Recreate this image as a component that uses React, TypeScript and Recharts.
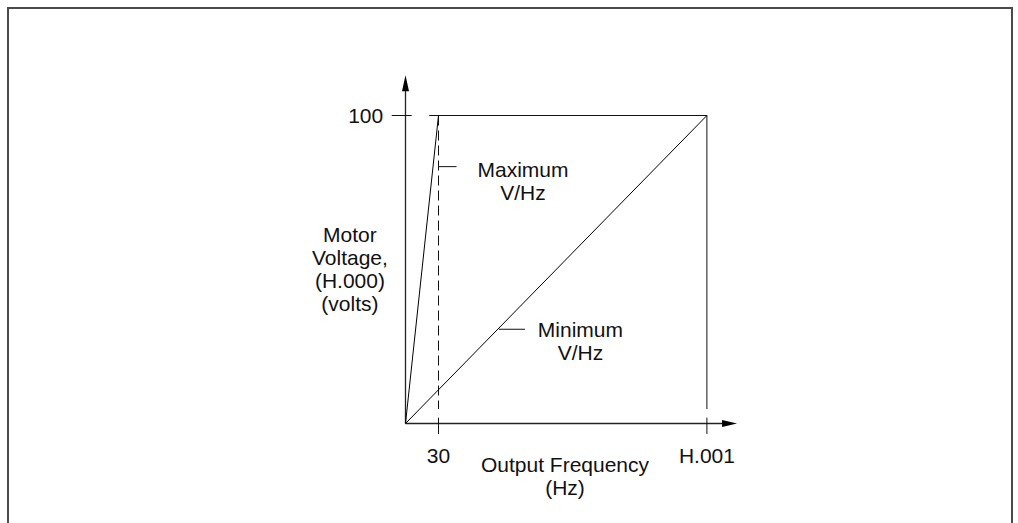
import React from "react";
import { LineChart, Line, XAxis, YAxis, ReferenceLine, ReferenceDot } from "recharts";

// V/Hz curve limits (schematic; H.001 drawn at 274 on the frequency scale)
const frequencyTicks = [30, 274];
const frequencyTickLabels = ["30", "H.001"];
const voltageTicks = [100];
const voltageTickLabels = ["100"];

const maxVhzFrequency = [0, 30];
const maxVhzVoltage = [0, 100];
const minVhzFrequency = [0, 274];
const minVhzVoltage = [0, 100];

const FONT = "'Liberation Sans', Arial, sans-serif";
const INK = "#111";
const LINE_H = 23;

const toPoints = (fs: number[], vs: number[]) => fs.map((f, i) => ({ f, v: vs[i] }));

const Note = ({ cx, cy, lines }: { cx: number; cy: number; lines: string[] }) => {
    const top = cy - ((lines.length - 1) * LINE_H) / 2;
    return (
        <g>
            {lines.map((t, i) => (
                <text
                    key={t}
                    x={cx}
                    y={top + i * LINE_H}
                    dy="0.35em"
                    textAnchor="middle"
                    fontSize={21}
                    fontFamily={FONT}
                    fill={INK}
                >
                    {t}
                </text>
            ))}
        </g>
    );
};

const upArrow = (p: any) => (
    <path d={`M${p.cx},${p.cy} L${p.cx - 3.5},${p.cy + 16} L${p.cx + 3.5},${p.cy + 16} Z`} fill="#000" />
);
const rightArrow = (p: any) => (
    <path d={`M${p.cx},${p.cy} L${p.cx - 15},${p.cy - 3.5} L${p.cx - 15},${p.cy + 3.5} Z`} fill="#000" />
);

const seg = (x1: number, y1: number, x2: number, y2: number) => [
    { x: x1, y: y1 },
    { x: x2, y: y2 },
];

const App = () => {
    const maxData = toPoints(maxVhzFrequency, maxVhzVoltage);
    const minData = toPoints(minVhzFrequency, minVhzVoltage);
    const hMax = frequencyTicks[1];
    const axisStroke = { stroke: "#222", strokeWidth: 1.3 };
    const thin = { stroke: "#111", strokeWidth: 1 };

    return (
        <div style={{ position: "absolute", left: 0, top: 0, width: 1018, height: 523, background: "#fff", overflow: "hidden" }}>
            <div
                style={{
                    position: "absolute",
                    left: 7,
                    top: 7,
                    width: 1006,
                    height: 600,
                    boxSizing: "border-box",
                    border: "2px solid #4a4a4a",
                    borderBottom: "none",
                }}
            />
            <div style={{ position: "absolute", left: 0, top: 0 }}>
                <LineChart
                    width={1018}
                    height={523}
                    margin={{ top: 75.46, right: 280.3, bottom: 28.72, left: 331.2 }}
                >
                    <XAxis
                        dataKey="f"
                        type="number"
                        domain={[-13, 302]}
                        allowDataOverflow
                        ticks={frequencyTicks}
                        interval={0}
                        tickFormatter={(v: number) => frequencyTickLabels[frequencyTicks.indexOf(v)]}
                        axisLine={false}
                        tickLine={false}
                        tickMargin={8}
                        height={60}
                        tick={{ fill: INK, fontSize: 21, fontFamily: FONT }}
                    />
                    <YAxis
                        type="number"
                        domain={[-3.5, 113]}
                        allowDataOverflow
                        ticks={voltageTicks}
                        interval={0}
                        tickFormatter={(v: number) => voltageTickLabels[voltageTicks.indexOf(v)]}
                        axisLine={false}
                        tickLine={false}
                        width={60}
                        tick={{ fill: INK, fontSize: 21, fontFamily: FONT }}
                    />

                    {/* axes with arrows */}
                    <ReferenceLine segment={seg(0, 0, 0, 108)} ifOverflow="visible" {...axisStroke} />
                    <ReferenceLine segment={seg(0, 0, 290, 0)} ifOverflow="visible" {...axisStroke} />
                    <ReferenceDot x={0} y={113.1} ifOverflow="visible" shape={upArrow} />
                    <ReferenceDot x={301.4} y={0} ifOverflow="visible" shape={rightArrow} />

                    {/* tick marks */}
                    <ReferenceLine segment={seg(-12.5, 100, 5.6, 100)} ifOverflow="visible" {...thin} />
                    <ReferenceLine segment={seg(30, 1.9, 30, -3.4)} ifOverflow="visible" {...thin} />
                    <ReferenceLine segment={seg(hMax, 1.9, hMax, -3.4)} ifOverflow="visible" {...thin} />

                    {/* operating envelope */}
                    <ReferenceLine segment={seg(21.6, 100, hMax, 100)} ifOverflow="visible" {...thin} />
                    <ReferenceLine segment={seg(hMax, 100, hMax, 4.7)} ifOverflow="visible" {...thin} />
                    <ReferenceLine segment={seg(30, 100, 30, 4.7)} ifOverflow="visible" strokeDasharray="10 5" {...thin} />

                    {/* leaders */}
                    <ReferenceLine segment={seg(30, 83.4, 46.4, 83.4)} ifOverflow="visible" {...thin} />
                    <ReferenceLine segment={seg(85, 30.6, 108.6, 30.6)} ifOverflow="visible" {...thin} />

                    <Line data={maxData} dataKey="v" stroke="#000" strokeWidth={1} dot={false} isAnimationActive={false} />
                    <Line data={minData} dataKey="v" stroke="#000" strokeWidth={1} dot={false} isAnimationActive={false} />

                    <ReferenceDot x={-50.5} y={50.2} ifOverflow="visible" shape={(p: any) => <Note cx={p.cx} cy={p.cy} lines={["Motor", "Voltage,", "(H.000)", "(volts)"]} />} />
                    <ReferenceDot x={106.8} y={78.7} ifOverflow="visible" shape={(p: any) => <Note cx={p.cx} cy={p.cy} lines={["Maximum", "V/Hz"]} />} />
                    <ReferenceDot x={159} y={26.8} ifOverflow="visible" shape={(p: any) => <Note cx={p.cx} cy={p.cy} lines={["Minimum", "V/Hz"]} />} />
                    <ReferenceDot x={145} y={-17.2} ifOverflow="visible" shape={(p: any) => <Note cx={p.cx} cy={p.cy} lines={["Output Frequency", "(Hz)"]} />} />
                </LineChart>
            </div>
        </div>
    );
};

export default App;
